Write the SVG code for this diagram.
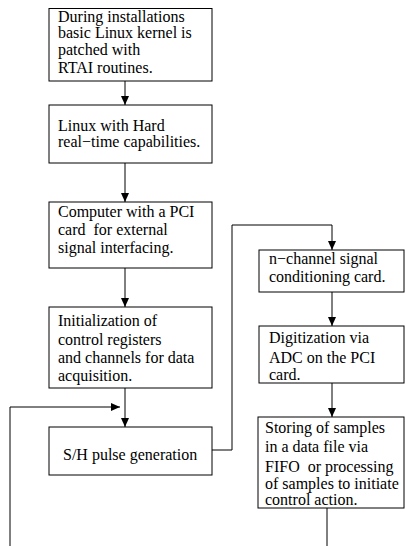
<svg xmlns="http://www.w3.org/2000/svg" width="405" height="546" viewBox="0 0 405 546">
<style>
.box{fill:#fff;stroke:#000;stroke-width:1}
.t{font-family:"Liberation Serif","Times New Roman",serif;font-size:16px;fill:#000;white-space:pre}
.c{fill:none;stroke:#000;stroke-width:1}
</style>
<defs>
<marker id="ah" markerWidth="10" markerHeight="8" refX="9" refY="4" orient="auto" markerUnits="userSpaceOnUse">
<path d="M0,0 L9,4 L0,8 Z" fill="#000"/>
</marker>
</defs>
<rect width="405" height="546" fill="#fff"/>
<g id="connectors">
<line class="c" x1="125" y1="81" x2="125" y2="105" marker-end="url(#ah)"/>
<line class="c" x1="125" y1="163" x2="125" y2="202" marker-end="url(#ah)"/>
<line class="c" x1="125" y1="268" x2="125" y2="307" marker-end="url(#ah)"/>
<line class="c" x1="125" y1="388" x2="125" y2="427" marker-end="url(#ah)"/>
<polyline class="c" points="10,546 10,407 120,407" marker-end="url(#ah)"/>
<polyline class="c" points="212,450 232,450 232,225 332,225 332,250" marker-end="url(#ah)"/>
<line class="c" x1="332" y1="292" x2="332" y2="326" marker-end="url(#ah)"/>
<line class="c" x1="332" y1="383" x2="332" y2="417" marker-end="url(#ah)"/>
<line class="c" x1="327" y1="508" x2="327" y2="546"/>
</g>
<g id="n1">
<rect class="box" x="49" y="8.5" width="163" height="72.5"/>
<text class="t" x="58" y="22">During installations</text>
<text class="t" x="58" y="38">basic Linux kernel is</text>
<text class="t" x="58" y="55">patched with</text>
<text class="t" x="58" y="73">RTAI routines.</text>
</g>
<g id="n2">
<rect class="box" x="49" y="105" width="163" height="58"/>
<text class="t" x="58" y="131">Linux with Hard</text>
<text class="t" x="58" y="147">real−time capabilities.</text>
</g>
<g id="n3">
<rect class="box" x="49" y="202" width="163" height="66"/>
<text class="t" x="58" y="217">Computer with a PCI</text>
<text class="t" x="58" y="235">card  for external</text>
<text class="t" x="58" y="253">signal interfacing.</text>
</g>
<g id="n4">
<rect class="box" x="49" y="307" width="163" height="81"/>
<text class="t" x="58" y="326">Initialization of</text>
<text class="t" x="58" y="345">control registers</text>
<text class="t" x="58" y="363">and channels for data</text>
<text class="t" x="58" y="381">acquisition.</text>
</g>
<g id="n5">
<rect class="box" x="49" y="427" width="163" height="48"/>
<text class="t" x="63" y="460">S/H pulse generation</text>
</g>
<g id="n6">
<rect class="box" x="259" y="250" width="145" height="42"/>
<text class="t" x="269" y="264">n−channel signal</text>
<text class="t" x="269" y="282">conditioning card.</text>
</g>
<g id="n7">
<rect class="box" x="259" y="326" width="145" height="57"/>
<text class="t" x="269" y="343">Digitization via</text>
<text class="t" x="269" y="363">ADC on the PCI</text>
<text class="t" x="269" y="380">card.</text>
</g>
<g id="n8">
<rect class="box" x="258" y="417" width="146" height="91"/>
<text class="t" x="265" y="433">Storing of samples</text>
<text class="t" x="265" y="452">in a data file via</text>
<text class="t" x="265" y="472">FIFO  or processing</text>
<text class="t" x="265" y="489">of samples to initiate</text>
<text class="t" x="265" y="505">control action.</text>
</g>
</svg>
